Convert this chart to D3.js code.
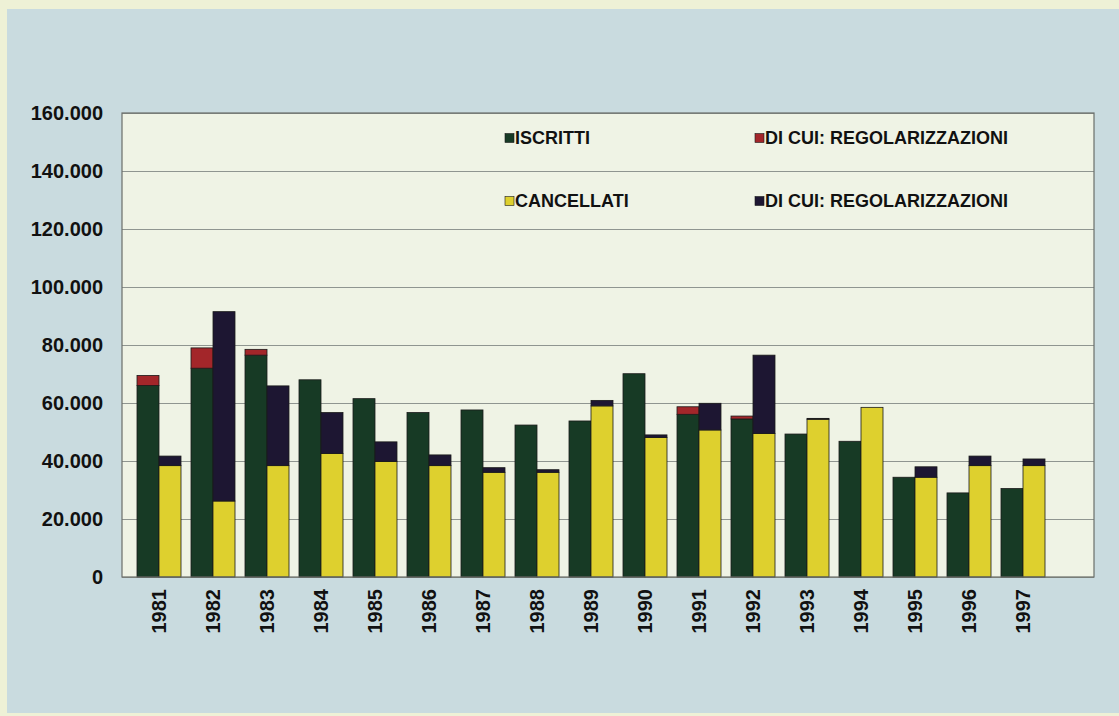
<!DOCTYPE html>
<html>
<head>
<meta charset="utf-8">
<script src="https://cdn.jsdelivr.net/npm/d3@7"></script>
<style>
  html, body { margin: 0; padding: 0; background: #eef1d6; }
  svg { display: block; }
  text { font-family: "Liberation Sans", Arial, sans-serif; font-weight: bold; fill: #111; }
</style>
</head>
<body>
<div id="chart"></div>
<script>
/*======================
==DATA ================*/
var years = ["1981","1982","1983","1984","1985","1986","1987","1988","1989",
             "1990","1991","1992","1993","1994","1995","1996","1997"];

// iscritti (green) and the regolarizzazioni part stacked on top (red)
var iscritti    = [66000, 72000, 76500, 68000, 61500, 56700, 57600, 52400, 53800,
                   70100, 56100, 54500, 49300, 46800, 34400, 29000, 30500];
var regIscritti = [3500, 7000, 2000, 0, 0, 0, 0, 0, 0,
                   0, 2600, 1000, 0, 0, 0, 0, 0];

// cancellati (yellow) and the regolarizzazioni part stacked on top (dark)
var cancellati  = [38400, 26200, 38400, 42600, 39800, 38400, 36100, 36100, 59000,
                   48100, 50700, 49500, 54400, 58500, 34400, 38400, 38400];
var regCancell  = [3300, 65300, 27500, 14100, 6800, 3700, 1600, 900, 1900,
                   900, 9200, 27000, 300, 0, 3600, 3300, 2300];

var yTicks = [0, 20000, 40000, 60000, 80000, 100000, 120000, 140000, 160000];

var legendLabels = ["ISCRITTI", "DI CUI: REGOLARIZZAZIONI", "CANCELLATI", "DI CUI: REGOLARIZZAZIONI"];

/*======================
==SVG =================*/
var svgWidth = 1119, svgHeight = 716;
var plot = { left: 122, top: 113, right: 1094, bottom: 577 };

var svg = d3.select("#chart").append("svg")
  .attr("width", svgWidth)
  .attr("height", svgHeight);

// cream page + blue panel
svg.append("rect").attr("width", svgWidth).attr("height", svgHeight).attr("fill", "#eef1d6");
svg.append("rect").attr("x", 7).attr("y", 9).attr("width", svgWidth - 7).attr("height", 704)
  .attr("fill", "#c9dbdf");

// plot area
svg.append("rect")
  .attr("x", plot.left).attr("y", plot.top)
  .attr("width", plot.right - plot.left).attr("height", plot.bottom - plot.top)
  .attr("fill", "#eff3e5");

/*======================
==SCALES ==============*/
var yScale = d3.scaleLinear().domain([0, 160000]).range([plot.bottom, plot.top]);

// 18 slots of 54px, the last one left empty as in the original
var xScale = d3.scaleBand()
  .domain(years)
  .range([plot.left + 15, plot.left + 15 + 908])
  .paddingInner(10 / 54)
  .paddingOuter(0);

var xSub = d3.scaleBand().domain(["isc", "canc"]).range([0, xScale.bandwidth()]);

var itFormat = d3.formatLocale({ decimal: ",", thousands: ".", grouping: [3], currency: ["", ""] }).format(",");

// gridlines
svg.append("g")
  .attr("class", "grid")
  .attr("transform", `translate(${plot.left},0)`)
  .call(d3.axisLeft(yScale).tickValues(yTicks).tickSize(-(plot.right - plot.left)).tickFormat(""))
  .call(g => g.select(".domain").remove())
  .call(g => g.selectAll("line").attr("stroke", "#8f9590").attr("stroke-width", 1));

// y labels
svg.append("g")
  .attr("transform", `translate(${plot.left},0)`)
  .call(d3.axisLeft(yScale).tickValues(yTicks).tickSize(0).tickPadding(19).tickFormat(itFormat))
  .call(g => g.select(".domain").remove())
  .call(g => g.selectAll("text").attr("font-size", 20).attr("fill", "#111"));

/*======================
==BARS ================*/
var rows = years.map((y, i) => ({
  year: y,
  isc: iscritti[i], regI: regIscritti[i],
  canc: cancellati[i], regC: regCancell[i]
}));

var iscStack = d3.stack().keys(["isc", "regI"])(rows);
var cancStack = d3.stack().keys(["canc", "regC"])(rows);

var colors = { isc: "#173a25", regI: "#a3262a", canc: "#ded02e", regC: "#1d1632" };

function drawStack(stack, sub) {
  svg.append("g").selectAll("g")
    .data(stack)
    .enter().append("g")
    .attr("fill", d => colors[d.key])
    .selectAll("rect")
    .data(d => d.filter(p => p[1] - p[0] > 0))
    .enter().append("rect")
    .attr("x", d => xScale(d.data.year) + xSub(sub))
    .attr("y", d => yScale(d[1]))
    .attr("width", xSub.bandwidth())
    .attr("height", d => yScale(d[0]) - yScale(d[1]))
    .attr("stroke", "#1a1a1a")
    .attr("stroke-width", 0.8);
}
drawStack(iscStack, "isc");
drawStack(cancStack, "canc");

// plot border
svg.append("rect")
  .attr("x", plot.left).attr("y", plot.top)
  .attr("width", plot.right - plot.left).attr("height", plot.bottom - plot.top)
  .attr("fill", "none").attr("stroke", "#6a6e6a").attr("stroke-width", 1.2);

// x labels
svg.append("g")
  .attr("transform", `translate(0,${plot.bottom})`)
  .call(d3.axisBottom(xScale).tickSize(0))
  .call(g => g.select(".domain").remove())
  .call(g => g.selectAll("text")
    .attr("font-size", 20)
    .attr("transform", "rotate(-90)")
    .attr("text-anchor", "end")
    .attr("x", -12)
    .attr("y", 0)
    .attr("dy", "0.35em"));

/*======================
==LEGEND ==============*/
var legendKeys = ["isc", "regI", "canc", "regC"];
var legendPos = [[505, 138], [755, 138], [505, 201], [755, 201]];

var legend = svg.append("g").selectAll("g")
  .data(legendKeys)
  .enter().append("g")
  .attr("transform", (d, i) => `translate(${legendPos[i][0]},${legendPos[i][1]})`);

legend.append("rect")
  .attr("x", 0).attr("y", -4.5)
  .attr("width", 9).attr("height", 9)
  .attr("fill", d => colors[d])
  .attr("stroke", "#1a1a1a").attr("stroke-width", 0.6);

legend.append("text")
  .attr("x", 10)
  .attr("dy", "0.36em")
  .attr("font-size", 18)
  .text((d, i) => legendLabels[i]);
</script>
</body>
</html>
